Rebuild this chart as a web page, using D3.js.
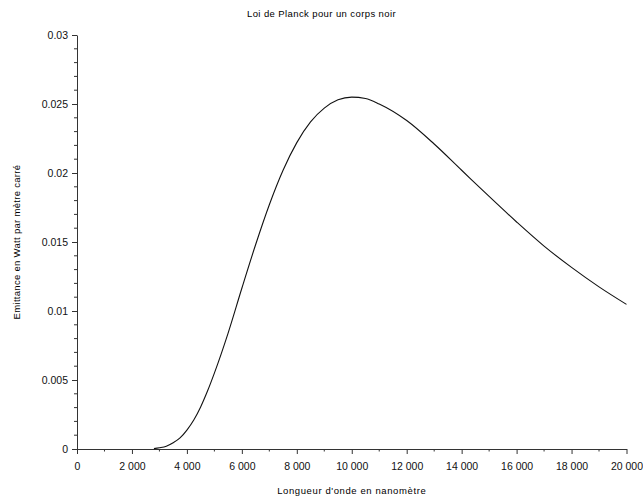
<!DOCTYPE html>
<html lang="fr">
<head>
<meta charset="utf-8">
<title>Loi de Planck pour un corps noir</title>
<script src="https://d3js.org/d3.v7.min.js"></script>
<style>
  body { margin: 0; background: #fff; }
  svg { display: block; font-family: "Liberation Sans", Arial, sans-serif; }
</style>
</head>
<body>
<div id="chart"></div>
<script>
// longueurs d'onde (nm) et emittance
var wavelengths = [2800, 3000, 3250, 3500, 3750, 4000, 4250, 4500, 4750, 5000, 5500, 6000, 6500, 7000,
                   7500, 8000, 8500, 9000, 9500, 10000, 10500, 11000, 12000, 13000, 14000, 15000,
                   16000, 17000, 18000, 19000, 20000];
var emittance = [0.00003, 0.00009, 0.0002, 0.00045, 0.0008, 0.00137, 0.0021, 0.00305, 0.0042, 0.0055,
                 0.0084, 0.01165, 0.0148, 0.0177, 0.0202, 0.0222, 0.0237, 0.0247, 0.0253, 0.0255,
                 0.0254, 0.0250, 0.0238, 0.0221, 0.0202, 0.0183, 0.01645, 0.0147, 0.01316, 0.01175, 0.01048];

var xTicks = [0, 2000, 4000, 6000, 8000, 10000, 12000, 14000, 16000, 18000, 20000];
var yTicks = [0, 0.005, 0.01, 0.015, 0.02, 0.025, 0.03];

var W = 643, H = 500;
var margin = {top: 35, right: 16.5, bottom: 51, left: 77};
var width = W - margin.left - margin.right,
    height = H - margin.top - margin.bottom;

var svg = d3.select("#chart").append("svg")
    .attr("width", W)
    .attr("height", H);

var g = svg.append("g")
    .attr("transform", "translate(" + margin.left + "," + margin.top + ")");

var x = d3.scaleLinear().domain([0, 20000]).range([0, width]);
var y = d3.scaleLinear().domain([0, 0.03]).range([height, 0]);

var fmtX = function(d) { return d3.format(",")(d).replace(/,/g, " "); };
var axisColor = "#333";

// minor ticks
var xMinor = d3.range(1000, 20000, 2000);
var yMinor = d3.range(1, 30).filter(function(i){ return i % 5 != 0; }).map(function(i){ return i / 1000; });

g.selectAll(".xminor").data(xMinor).enter().append("line")
    .attr("x1", function(d){ return x(d); }).attr("x2", function(d){ return x(d); })
    .attr("y1", height).attr("y2", height + 2.5)
    .attr("stroke", axisColor);
g.selectAll(".yminor").data(yMinor).enter().append("line")
    .attr("y1", function(d){ return y(d); }).attr("y2", function(d){ return y(d); })
    .attr("x1", 0).attr("x2", -3)
    .attr("stroke", axisColor);

// x axis
var xAxis = g.append("g")
    .attr("transform", "translate(0," + height + ")")
    .call(d3.axisBottom(x).tickValues(xTicks).tickFormat(fmtX).tickSize(5).tickSizeOuter(0));
xAxis.selectAll("text").attr("dy", "1.2em");

// y axis
var yAxis = g.append("g")
    .call(d3.axisLeft(y).tickValues(yTicks).tickFormat(function(d){ return d === 0 ? "0" : d3.format("")(+d.toFixed(3)); })
          .tickSize(5).tickSizeOuter(0));
yAxis.selectAll("text").attr("x", -9);

[xAxis, yAxis].forEach(function(a) {
  a.select(".domain").attr("stroke", axisColor);
  a.selectAll(".tick line").attr("stroke", axisColor);
  a.selectAll("text").attr("fill", "#111").style("font-size", "10.5px");
});

// curve
var pts = wavelengths.map(function(d, i){ return [d, emittance[i]]; });
g.append("path")
    .datum(pts)
    .attr("fill", "none")
    .attr("stroke", "#111")
    .attr("stroke-width", 1.1)
    .attr("d", d3.line()
        .x(function(d){ return x(d[0]); })
        .y(function(d){ return y(d[1]); })
        .curve(d3.curveMonotoneX));

// titles
svg.append("text")
    .attr("x", W / 2).attr("y", 17)
    .attr("text-anchor", "middle")
    .style("font-size", "9.5px")
    .style("letter-spacing", "0.4px")
    .attr("fill", "#000")
    .text("Loi de Planck pour un corps noir");

svg.append("text")
    .attr("x", margin.left + x(10000)).attr("y", 494)
    .attr("text-anchor", "middle")
    .style("font-size", "9.5px")
    .style("letter-spacing", "0.6px")
    .attr("fill", "#000")
    .text("Longueur d'onde en nanomètre");

svg.append("text")
    .attr("transform", "translate(20," + (margin.top + height / 2) + ") rotate(-90)")
    .attr("text-anchor", "middle")
    .style("font-size", "9.5px")
    .style("letter-spacing", "0.3px")
    .attr("fill", "#000")
    .text("Emittance en Watt par mètre carré");
</script>
</body>
</html>
